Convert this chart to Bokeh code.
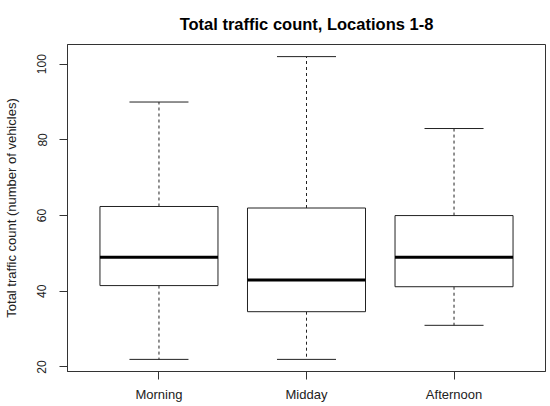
from bokeh.plotting import figure
from bokeh.models import Range1d, FixedTicker
from bokeh.embed import file_html
from bokeh.resources import INLINE

# boxplot stats
categories = ["Morning", "Midday", "Afternoon"]
lower = [22, 22, 31]
q1 = [41.5, 34.6, 41.2]
median = [49, 43, 49]
q3 = [62.4, 62, 60]
upper = [90, 102, 83]
y_ticks = [20, 40, 60, 80, 100]

xs = list(range(1, len(categories) + 1))
box_half = 0.4
cap_half = 0.2

p = figure(width=550, height=406, output_backend="svg", toolbar_location=None,
           x_range=Range1d(0.38, 3.62), y_range=Range1d(18.8, 105.2),
           title="Total traffic count, Locations 1-8",
           min_border_left=67, min_border_right=5, min_border_top=44, min_border_bottom=35)

p.background_fill_color = "white"
p.border_fill_color = "white"
p.outline_line_color = "#333333"
p.outline_line_width = 1
p.xgrid.visible = False
p.ygrid.visible = False

# whiskers (dashed)
p.segment(xs, q3, xs, upper, line_color="#222222", line_width=1, line_dash="3 3")
p.segment(xs, q1, xs, lower, line_color="#222222", line_width=1, line_dash="3 3")
# caps
p.segment([x - cap_half for x in xs], upper, [x + cap_half for x in xs], upper, line_color="#222222", line_width=1)
p.segment([x - cap_half for x in xs], lower, [x + cap_half for x in xs], lower, line_color="#222222", line_width=1)
# boxes
p.quad(left=[x - box_half for x in xs], right=[x + box_half for x in xs], bottom=q1, top=q3,
       fill_color="white", line_color="#222222", line_width=1)
# medians
p.segment([x - box_half for x in xs], median, [x + box_half for x in xs], median, line_color="black", line_width=3)

p.title.text_font = "Liberation Sans"
p.title.text_font_size = "16.5px"
p.title.text_font_style = "bold"
p.title.text_color = "black"
p.title.align = "center"
p.title.standoff = 24

p.xaxis.ticker = FixedTicker(ticks=xs)
p.xaxis.major_label_overrides = {x: c for x, c in zip(xs, categories)}
p.yaxis.ticker = FixedTicker(ticks=y_ticks)
p.yaxis.axis_label = "Total traffic count (number of vehicles)"
p.yaxis.major_label_orientation = "vertical"

for ax in (p.xaxis, p.yaxis):
    ax.axis_line_color = "#333333"
    ax.major_tick_line_color = "#333333"
    ax.major_tick_out = 8
    ax.major_tick_in = 0
    ax.minor_tick_line_color = None
    ax.major_label_text_font = "Liberation Sans"
    ax.major_label_text_color = "#222222"
    ax.axis_label_text_font = "Liberation Sans"
    ax.axis_label_text_font_style = "normal"
    ax.axis_label_text_color = "#222222"

p.xaxis.major_label_text_font_size = "13px"
p.xaxis.major_label_standoff = 7
p.yaxis.major_label_text_font_size = "12px"
p.yaxis.major_label_standoff = 13
p.yaxis.axis_label_text_font_size = "13px"
p.yaxis.axis_label_standoff = 16

open("out.html", "w").write(file_html(p, INLINE))
